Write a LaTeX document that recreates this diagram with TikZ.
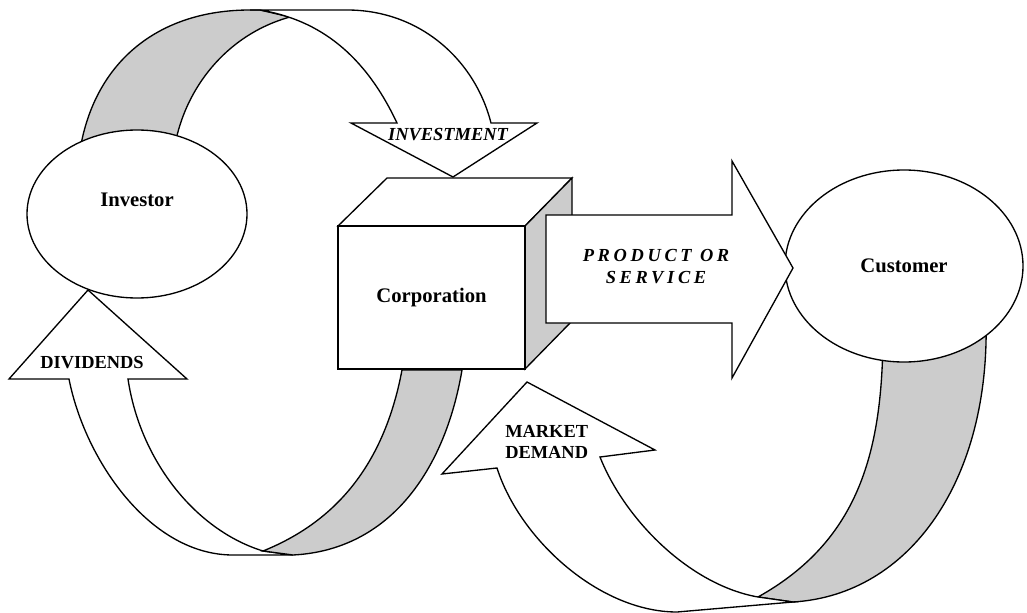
\documentclass[tikz,border=0pt]{standalone}
\usepackage{fontspec}
\setmainfont{Liberation Serif}
\newfontfamily\spacedfont[LetterSpace=20]{Liberation Serif}
\usetikzlibrary{shapes.geometric}
\definecolor{bandgray}{gray}{0.8}
\tikzset{
  band/.style={draw=black, fill=bandgray, line width=1pt, line join=miter},
  ribbon/.style={draw=black, fill=white, line width=1pt, line join=miter},
  partytext/.style={font=\fontsize{15.5}{18}\selectfont\bfseries, inner sep=0pt},
  flowtext/.style={font=\fontsize{13.8}{15.8}\selectfont\bfseries, inner sep=0pt}
}

\begin{document}
\begin{tikzpicture}[x=0.75pt, y=-0.75pt]
	\useasboundingbox (0,0) rectangle (1027,613);
	% back of the investment ribbon
	\path[band] (80,150) .. controls (95,60) and (160,10) .. (250,10) -- (260,10) -- (290,17)
	      .. controls (225,35) and (185,90) .. (175,145) -- cycle;
	\begin{scope}[every node/.style={ellipse, draw, fill=white, line width=1pt, inner sep=0pt}]
		\node[minimum width=165pt, minimum height=126pt] (investor) at (137,214) {};
	\end{scope}
	\node[partytext] (investortext) at (137,200) {Investor};
	% investment ribbon
	\path[ribbon] (250,10) -- (347,10) .. controls (420,10) and (475,60) .. (491,123)
	      -- (537,123) -- (453,177) -- (351,123) -- (397,123)
	      .. controls (365,55) and (320,20) .. (260,10) -- cycle;
	\node[flowtext, font=\fontsize{13.8}{15.8}\selectfont\bfseries\itshape] (investlabel) at (448,135) {INVESTMENT};
	% dividends ribbon
	\path[ribbon] (69,379) .. controls (85,460) and (150,555) .. (233,555) -- (293,555) -- (263,551)
	      .. controls (195,530) and (140,460) .. (128,379) -- (187,379) -- (88,290) -- (9,379) -- cycle;
	\node[flowtext] (dividlabel) at (92,363) {DIVIDENDS};
	\path[band] (263,551) .. controls (340,520) and (385,460) .. (402,370) -- (462,370)
	      .. controls (445,470) and (390,550) .. (293,555) -- cycle;
	% corporation cube
	\path[ribbon] (338,226) -- (387,178) -- (572,178) -- (525,226) -- cycle;
	\path[band] (525,226) -- (572,178) -- (572,321) -- (525,369) -- cycle;
	\node[draw, fill=white, line width=1pt, minimum width=140.25pt, minimum height=107.25pt,
	      partytext] (corp) at (431.5,297.5) {Corporation};
	% back of the market demand ribbon
	\path[band] (758,597) .. controls (860,540) and (883,450) .. (883,330) -- (986,320)
	      .. controls (990,480) and (910,595) .. (793,602) -- cycle;
	\begin{scope}[every node/.style={ellipse, draw, fill=white, line width=1pt, inner sep=0pt}]
		\node[minimum width=178.5pt, minimum height=144pt, partytext] (customer) at (904,266) {Customer};
	\end{scope}
	% market demand ribbon
	\path[ribbon] (497,468) .. controls (520,540) and (600,612) .. (677,612) -- (793,602) -- (758,597)
	      .. controls (690,585) and (625,520) .. (600,457) -- (655,450) -- (527,382) -- (442,474) -- cycle;
	\node[flowtext, anchor=west, align=left] (marketlabel) at (505,442) {MARKET\\DEMAND};
	% product arrow
	\path[ribbon] (546,215) -- (732,215) -- (732,161) -- (793,268) -- (732,378) -- (732,323) -- (546,323) -- cycle;
	\node[flowtext, font=\fontsize{13.8}{16.5}\selectfont\spacedfont\bfseries\itshape, align=center]
	      (productlabel) at (656,267) {PRODUCT OR\\SERVICE};
\end{tikzpicture}
\end{document}
